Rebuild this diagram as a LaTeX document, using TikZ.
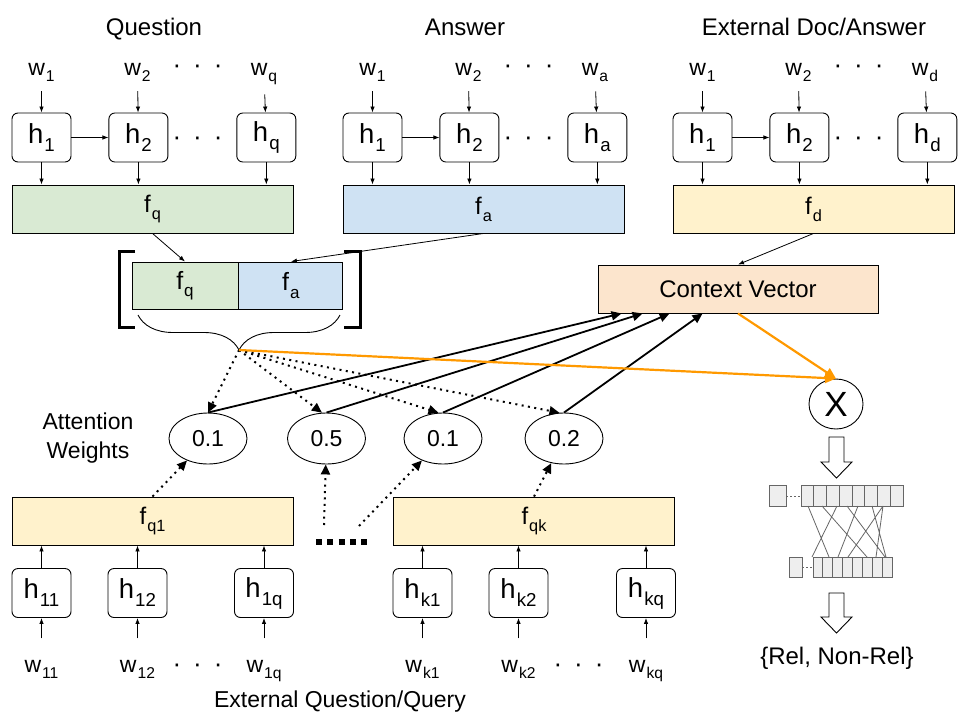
\documentclass[tikz,border=0pt]{standalone}
\usepackage{fontspec}
\setmainfont{Liberation Sans}
\usetikzlibrary{shapes,arrows.meta,positioning,decorations.pathreplacing}

\definecolor{qgreen}{HTML}{D9EAD3}
\definecolor{ablue}{HTML}{CFE2F3}
\definecolor{dyellow}{HTML}{FFF2CC}
\definecolor{cvpeach}{HTML}{FCE5CD}
\definecolor{attorange}{HTML}{FF9900}
\definecolor{cellfill}{HTML}{EEEEEE}
\definecolor{cellline}{HTML}{666666}

\newcommand{\lo}[1]{\kern1pt\raisebox{-0.55ex}{\scalebox{0.68}{#1}}}
\newcommand{\rowdots}{·\hspace{12pt}·\hspace{12pt}·}

\begin{document}
\begin{tikzpicture}[
    x=1pt, y=-1pt, line width=0.9pt,
    every node/.style={font=\fontsize{23}{29}\selectfont},
    wlab/.style={anchor=base, inner sep=0pt},
    dotrow/.style={anchor=base, inner sep=0pt, font=\fontsize{26}{26}\selectfont},
    hbox/.style={draw, rounded corners=6pt, minimum width=59pt, minimum height=49pt, inner sep=0pt, font=\fontsize{27.5}{30}\selectfont},
    fbox/.style={draw, minimum width=281pt, minimum height=48pt, inner sep=0pt, font=\fontsize{24}{26}\selectfont},
    catbox/.style={draw, minimum height=47pt, inner sep=0pt, font=\fontsize{25}{26}\selectfont},
    weight/.style={draw, ellipse, minimum width=78pt, minimum height=51pt, inner sep=0pt},
    arrow/.style={-{Latex[length=6pt,width=4.5pt]}, line width=0.8pt},
    attarrow/.style={-{Triangle[length=10pt,width=9pt]}, line width=1.8pt},
    dotarrow/.style={attarrow, line width=2pt, dash pattern=on 2pt off 4.4pt},
    orarrow/.style={-{Triangle[length=11pt,width=10pt]}, line width=2.2pt, draw=attorange},
    cell/.style={draw=cellline, fill=cellfill, line width=0.9pt}
]
\useasboundingbox (0,0) rectangle (960,720);

% question encoder
\node[anchor=base, font=\fontsize{24}{28}\selectfont] (tq) at (154,35) {Question};
\node[wlab] (qw1) at (41.5,75) {w\lo{1}};
\node[wlab] (qw2) at (137.5,75) {w\lo{2}};
\node[wlab] (qwq) at (264,75) {w\lo{q}};
\node[dotrow] (qwd) at (197.5,73) {\rowdots};
\node[hbox] (qh1) at (41.5,137.5) {h\lo{1}};
\node[hbox, right=37pt of qh1] (qh2) {h\lo{2}};
\node[hbox, right=68pt of qh2] (qhq) {h\lo{q}};
\node[dotrow] (qhd) at (197.5,145) {\rowdots};
\node[fbox, fill=qgreen] (fq) at (152.5,209) {f\lo{q}};
\draw[arrow, shorten <=9pt] (qw1) -- (qh1);
\draw[arrow, shorten <=9pt] (qw2) -- (qh2);
\draw[arrow, shorten <=9pt] (qwq) -- (qhq);
\draw[arrow] (qh1) -- (qh2);
\draw[arrow] (qh1.south) -- (qh1.south |- fq.north);
\draw[arrow] (qh2.south) -- (qh2.south |- fq.north);
\draw[arrow] (qhq.south) -- (qhq.south |- fq.north);

% answer encoder
\node[anchor=base, font=\fontsize{24}{28}\selectfont] (ta) at (465,35) {Answer};
\node[wlab] (aw1) at (372.5,75) {w\lo{1}};
\node[wlab] (aw2) at (468.5,75) {w\lo{2}};
\node[wlab] (awa) at (595,75) {w\lo{a}};
\node[dotrow] (awd) at (528.5,73) {\rowdots};
\node[hbox] (ah1) at (372.5,137.5) {h\lo{1}};
\node[hbox, right=37pt of ah1] (ah2) {h\lo{2}};
\node[hbox, right=68pt of ah2] (aha) {h\lo{a}};
\node[dotrow] (ahd) at (528.5,145) {\rowdots};
\node[fbox, fill=ablue] (fa) at (483.5,209) {f\lo{a}};
\draw[arrow, shorten <=9pt] (aw1) -- (ah1);
\draw[arrow, shorten <=9pt] (aw2) -- (ah2);
\draw[arrow, shorten <=9pt] (awa) -- (aha);
\draw[arrow] (ah1) -- (ah2);
\draw[arrow] (ah1.south) -- (ah1.south |- fa.north);
\draw[arrow] (ah2.south) -- (ah2.south |- fa.north);
\draw[arrow] (aha.south) -- (aha.south |- fa.north);

% external doc encoder
\node[anchor=base, font=\fontsize{24}{28}\selectfont] (td) at (814,35) {External Doc/Answer};
\node[wlab] (dw1) at (702.5,75) {w\lo{1}};
\node[wlab] (dw2) at (798.5,75) {w\lo{2}};
\node[wlab] (dwd) at (925,75) {w\lo{d}};
\node[dotrow] (dwdots) at (858.5,73) {\rowdots};
\node[hbox] (dh1) at (702.5,137.5) {h\lo{1}};
\node[hbox, right=37pt of dh1] (dh2) {h\lo{2}};
\node[hbox, right=68pt of dh2] (dhd) {h\lo{d}};
\node[dotrow] (dhdots) at (858.5,145) {\rowdots};
\node[fbox, fill=dyellow] (fd) at (813.5,209) {f\lo{d}};
\draw[arrow, shorten <=9pt] (dw1) -- (dh1);
\draw[arrow, shorten <=9pt] (dw2) -- (dh2);
\draw[arrow, shorten <=9pt] (dwd) -- (dhd);
\draw[arrow] (dh1) -- (dh2);
\draw[arrow] (dh1.south) -- (dh1.south |- fd.north);
\draw[arrow] (dh2.south) -- (dh2.south |- fd.north);
\draw[arrow] (dhd.south) -- (dhd.south |- fd.north);

% concatenation
\node[catbox, fill=qgreen, minimum width=106pt] (cq) at (185,285.5) {f\lo{q}};
\node[catbox, fill=ablue, minimum width=104pt, right=0pt of cq] (ca) {f\lo{a}};
\draw[line width=3pt] (135,251) -- (119,251) -- (119,327) -- (135,327);
\draw[line width=3pt] (344,251) -- (360,251) -- (360,327) -- (344,327);
\draw[decorate, decoration={brace, amplitude=35pt}] (340,315) -- (138,315);
\coordinate (bt) at (239,350);
\draw[arrow] (fq.south) -- (cq.north);
\draw[arrow] (fa.south) -- (ca.north);

% context vector and product
\node[draw, fill=cvpeach, minimum width=280pt, minimum height=48pt, inner sep=0pt, font=\fontsize{24}{26}\selectfont] (cv) at (738,289) {Context Vector};
\node[draw, ellipse, minimum width=54pt, minimum height=50pt, inner sep=0pt, font=\fontsize{35}{35}\selectfont] (xop) at (836,404) {X};
\draw[arrow] (fd.south) -- (cv.north);

% attention weights
\node[align=center] (attw) at (88,438) {Attention\\Weights};
\node[weight] (e1) at (208,438.5) {0.1};
\node[weight] (e2) at (326.5,438.5) {0.5};
\node[weight] (e3) at (443,438.5) {0.1};
\node[weight] (e4) at (564,438.5) {0.2};
\draw[dotarrow] (bt) -- (e1.north);
\draw[dotarrow] (bt) -- (e2.100);
\draw[dotarrow] (bt) -- (e3.100);
\draw[dotarrow] (bt) -- (e4.100);
\draw[attarrow] (e1.north) -- ([xshift=24pt]cv.south west);
\draw[attarrow] (e2.north) -- ([xshift=45pt]cv.south west);
\draw[attarrow] (e3.north) -- ([xshift=72pt]cv.south west);
\draw[attarrow] (e4.north) -- ([xshift=105pt]cv.south west);
\draw[orarrow] (cv.south) -- (xop.north);
\draw[orarrow] (bt) -- (xop.north);

% external question encoders
\node[fbox, fill=dyellow] (fq1) at (152.5,521) {f\lo{q1}};
\node[fbox, fill=dyellow] (fqk) at (534,521) {f\lo{qk}};
\node[hbox] (bh11) at (41.5,593) {h\lo{11}};
\node[hbox] (bh12) at (137.5,593) {h\lo{12}};
\node[hbox] (bh1q) at (264,593) {h\lo{1q}};
\node[hbox] (bhk1) at (422.5,593) {h\lo{k1}};
\node[hbox] (bhk2) at (518.5,593) {h\lo{k2}};
\node[hbox] (bhkq) at (646,593) {h\lo{kq}};
\node[wlab] (bw11) at (41.5,672) {w\lo{11}};
\node[wlab] (bw12) at (137.5,672) {w\lo{12}};
\node[wlab] (bw1q) at (264,672) {w\lo{1q}};
\node[dotrow] (bwd1) at (197.5,672) {\rowdots};
\node[wlab] (bwk1) at (422.5,672) {w\lo{k1}};
\node[wlab] (bwk2) at (518.5,672) {w\lo{k2}};
\node[wlab] (bwkq) at (646,672) {w\lo{kq}};
\node[dotrow] (bwd2) at (578.5,672) {\rowdots};
\node[anchor=base] (tx) at (340,707) {External Question/Query};
\draw[arrow, shorten <=21pt] (bw11) -- (bh11);
\draw[arrow, shorten <=21pt] (bw12) -- (bh12);
\draw[arrow, shorten <=21pt] (bw1q) -- (bh1q);
\draw[arrow, shorten <=21pt] (bwk1) -- (bhk1);
\draw[arrow, shorten <=21pt] (bwk2) -- (bhk2);
\draw[arrow, shorten <=21pt] (bwkq) -- (bhkq);
\draw[arrow] (bh11.north) -- (bh11.north |- fq1.south);
\draw[arrow] (bh12.north) -- (bh12.north |- fq1.south);
\draw[arrow] (bh1q.north) -- (bh1q.north |- fq1.south);
\draw[arrow] (bhk1.north) -- (bhk1.north |- fqk.south);
\draw[arrow] (bhk2.north) -- (bhk2.north |- fqk.south);
\draw[arrow] (bhkq.north) -- (bhkq.north |- fqk.south);
\draw[line width=5.5pt, dash pattern=on 6pt off 5.25pt] (316,542) -- (367,542);
\coordinate (dl) at (324,525);
\coordinate (dr) at (359,526);
\draw[dotarrow] (fq1.north) -- (e1);
\draw[dotarrow] (dl) -- (e2);
\draw[dotarrow] (dr) -- (e3);
\draw[dotarrow] (fqk.north) -- (e4);

% classifier
\draw (829,437) -- (844,437) -- (844,462) -- (852,462) -- (836.5,478) -- (821,462) -- (829,462) -- cycle;
\draw[cell] (769,485) rectangle (786,506);
\draw[cell] (801,485) rectangle (903,506);
\draw[cellline, line width=0.9pt] (813.75,485) -- (813.75,506) (826.5,485) -- (826.5,506) (839.25,485) -- (839.25,506) (852,485) -- (852,506) (864.75,485) -- (864.75,506) (877.5,485) -- (877.5,506) (890.25,485) -- (890.25,506);
\draw[cellline, line width=0.9pt, dash pattern=on 2pt off 2pt] (786,496) -- (801,496);
\draw[cell] (789,557) rectangle (802,577);
\draw[cell] (813,557) rectangle (892,577);
\draw[cellline, line width=0.9pt] (822.9,557) -- (822.9,577) (832.75,557) -- (832.75,577) (842.6,557) -- (842.6,577) (852.5,557) -- (852.5,577) (862.4,557) -- (862.4,577) (872.25,557) -- (872.25,577) (882.1,557) -- (882.1,577);
\draw[cellline, line width=0.9pt, dash pattern=on 2pt off 2pt] (802,567) -- (813,567);
\draw[cellline, line width=0.8pt] (808,506) -- (829,557) (822,506) -- (867,557) (837,506) -- (812,557) (847,506) -- (885,557) (858,506) -- (838,557) (872,506) -- (886,557) (883,506) -- (848,557) (883,506) -- (876,557);
\draw (829,593) -- (844,593) -- (844,617) -- (852,617) -- (836.5,633) -- (821,617) -- (829,617) -- cycle;
\node[font=\fontsize{24}{26}\selectfont] (out) at (837,658) {\{Rel, Non-Rel\}};
\end{tikzpicture}
\end{document}
